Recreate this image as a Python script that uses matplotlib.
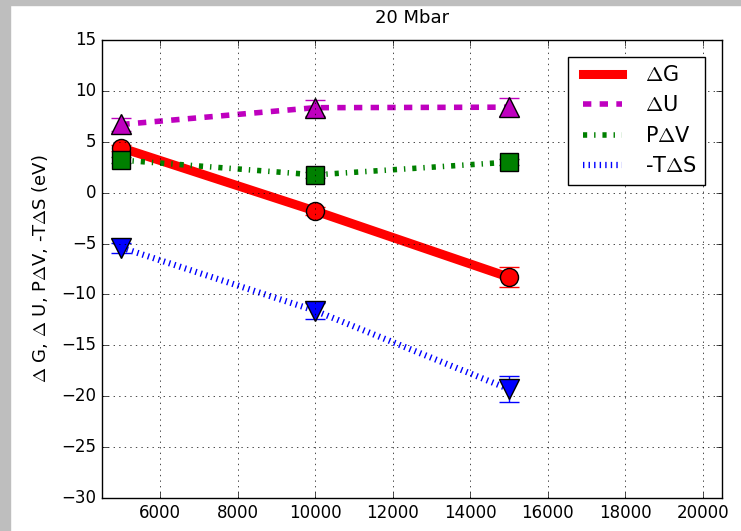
#!/usr/bin/env python3
import matplotlib
matplotlib.use("Agg")
import matplotlib.pyplot as plt
from matplotlib.patches import Rectangle

pressure = [5000, 10000, 15000]
dG = [4.4, -1.8, -8.3]
dG_err = [0.3, 0.4, 0.95]
dU = [6.7, 8.35, 8.4]
dU_err = [0.6, 0.8, 0.9]
PdV = [3.2, 1.75, 3.0]
PdV_err = [0.3, 0.3, 0.3]
TdS = [-5.4, -11.6, -19.3]
TdS_err = [0.5, 0.8, 1.3]

plt.style.use('classic')
fig = plt.figure(figsize=(7.41, 5.31), dpi=100, facecolor='white')
# grey strips at the top and left edge of the screenshot
fig.patches.append(Rectangle((0, 1 - 5/531.), 1, 5/531., transform=fig.transFigure,
                             color='#bebebe', zorder=-1))
fig.patches.append(Rectangle((0, 0), 10/741., 1, transform=fig.transFigure,
                             color='#bebebe', zorder=-1))
ax = fig.add_axes([102/741., 1 - 498/531., 620/741., 458/531.])

ax.plot(pressure, dG, 'r-', lw=6.5, label=r'$\Delta$G')
ax.plot(pressure, dU, 'm--', lw=4, label=r'$\Delta$U')
ax.plot(pressure, PdV, 'g-.', lw=4, label=r'P$\Delta$V')
ax.plot(pressure, TdS, 'b:', lw=4.5, label=r'-T$\Delta$S')

ax.errorbar(pressure, dG, yerr=dG_err, fmt='o', color='r', ms=13, mew=1, capsize=7)
ax.errorbar(pressure, dU, yerr=dU_err, fmt='^', color='m', ms=14, mew=1, capsize=7)
ax.errorbar(pressure, PdV, yerr=PdV_err, fmt='s', color='g', ms=13, mew=1, capsize=7)
ax.errorbar(pressure, TdS, yerr=TdS_err, fmt='v', color='b', ms=14, mew=1, capsize=7)

ax.set_xlim(4500, 20500)
ax.set_ylim(-30, 15)
ax.set_xticks(range(6000, 20001, 2000))
ax.grid(True)
ax.set_title('20 Mbar', fontsize=13, pad=12)
ax.set_ylabel(r'$\Delta$ G, $\Delta$ U, P$\Delta$V, -T$\Delta$S (eV)', fontsize=13, labelpad=8)
ax.legend(loc='upper right', fontsize=15, handlelength=2.5, borderaxespad=0.8)

fig.savefig('out.png', dpi=100, facecolor='white')
